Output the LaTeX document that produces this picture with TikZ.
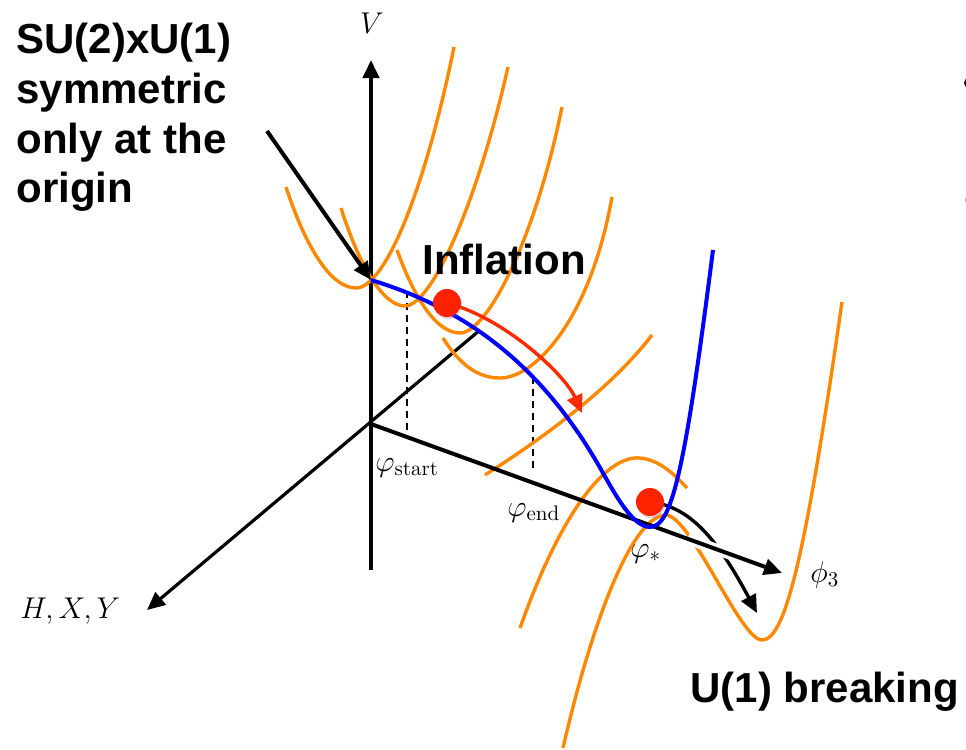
\RequirePackage{fix-cm}
\documentclass[tikz,border=0pt]{standalone}
\usepackage{fontspec}
\setsansfont{Liberation Sans}
\usepackage{tikz}
\usetikzlibrary{arrows.meta,calc,shadows}
\definecolor{potorange}{HTML}{FF8800}
\definecolor{pathblue}{HTML}{0000FF}
\definecolor{ballred}{HTML}{FF2200}
\definecolor{rollred}{HTML}{FF2A00}
\tikzset{
  axisline/.style={line width=2pt,-{Triangle[length=9pt,width=8pt]}},
  pot/.style={potorange,line width=1.7pt},
  ball/.style={circle,fill=ballred,minimum size=14pt,inner sep=0pt,drop shadow={shadow xshift=0.5pt,shadow yshift=-1pt,opacity=0.3}},
  bigtext/.style={font=\sffamily\bfseries\fontsize{21}{24.8}\selectfont,inner sep=0pt},
  mathlbl/.style={font=\fontsize{15}{18}\selectfont,inner sep=0pt}
}

\begin{document}
\begin{tikzpicture}[x=0.5pt,y=-0.5pt]
\useasboundingbox (0,0) rectangle (966,750);
\coordinate (O) at (371,424);
\coordinate (Vtop) at (371,60);
\coordinate (Vbot) at (371,570);
\coordinate (Hend) at (480,330);
\coordinate (Htip) at (147,610);
\coordinate (Ptip) at (782,573);
\coordinate (sympt) at (371,280);
\coordinate (symfrom) at (267,131);
\coordinate (infc) at (447,303);
\coordinate (brkc) at (650,502);
\coordinate (rollend) at (582,413);
\coordinate (brkend) at (757,613);
\coordinate (startV) at (407,291);
\coordinate (startA) at (407,434);
\coordinate (endV) at (533,377);
\coordinate (endA) at (533,472);

\draw[axisline] (Vbot) -- (Vtop);
\draw[axisline,line width=1.6pt] (Hend) -- (Htip);
\draw[line width=1pt,dash pattern=on 3.5pt off 2.5pt] (startV) -- (startA);
\draw[line width=1pt,dash pattern=on 3.5pt off 2.5pt] (endV) -- (endA);

\draw[pot] (286,187) .. controls (305,245) and (330,288) .. (356,288) .. controls (385,288) and (425,190) .. (454,47);
\draw[pot] (341,208) .. controls (358,262) and (382,306) .. (405,306) .. controls (432,306) and (478,200) .. (508,67);
\draw[pot] (397,250) .. controls (415,300) and (437,333) .. (460,333) .. controls (487,333) and (535,240) .. (562,107);
\draw[pot] (443,338) .. controls (460,365) and (478,378) .. (500,378) .. controls (535,378) and (590,320) .. (612,197);
\draw[pot] (485,475) .. controls (540,440) and (610,390) .. (652,335);
\draw[pot] (520,628) .. controls (560,515) and (605,455) .. (640,458) .. controls (660,460) and (675,475) .. (687,488);
\draw[pot] (563,748) .. controls (590,630) and (630,518) .. (665,515) .. controls (690,513) and (740,640) .. (762,640) .. controls (785,640) and (805,560) .. (842,302);

\draw[line width=1.7pt,-{Triangle[length=9pt,width=8pt]}] (brkc) .. controls (690,506) and (718,540) .. (brkend);
\draw[white,line width=5.5pt] ($(O)!0.77!(Ptip)$) -- ($(O)!0.9!(Ptip)$);
\draw[axisline] (O) -- (Ptip);

\draw[pathblue,line width=2pt] (sympt) .. controls (460,307) and (540,360) .. (603,473) .. controls (620,503.5) and (635,527) .. (650,527) .. controls (672,527) and (685,470) .. (713,250);
\draw[rollred,line width=1.7pt,-{Triangle[length=9pt,width=8pt]}] (infc) .. controls (505,318) and (565,375) .. (rollend);

\node[ball] (inf) at (infc) {};
\node[ball] (brk) at (brkc) {};

\node[mathlbl,anchor=base] (lblV) at (372,33) {$V$};
\node[mathlbl,anchor=base west] (lblHXY) at (20,618) {$H,X,Y$};
\node[mathlbl,anchor=base west] (lblstart) at (375,471) {$\varphi_{\rm start}$};
\node[mathlbl,anchor=base west] (lblend) at (507,516) {$\varphi_{\rm end}$};
\node[mathlbl,anchor=base west] (lblstar) at (630,557) {$\varphi_*$};
\node[mathlbl,anchor=base west] (lblphi) at (810,582) {$\phi_3$};

\node[bigtext,anchor=north west,align=left] (symtext) at (16,23) {SU(2)xU(1)\\symmetric\\only at the\\origin};
\node[bigtext,anchor=base west] (inftext) at (422,274) {Inflation};
\node[bigtext,anchor=base west] (brktext) at (690,702) {U(1) breaking};

\draw[axisline] (symfrom) -- (sympt);

\fill (969,83) circle (2.5pt);
\fill[black!40] (970,200) circle (2.5pt);
\end{tikzpicture}
\end{document}
